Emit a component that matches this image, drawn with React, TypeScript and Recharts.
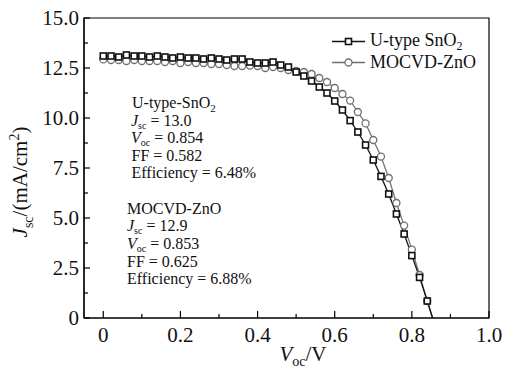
import { LineChart, Line, XAxis, YAxis, ReferenceArea, Legend, Customized } from 'recharts';

const SERIF = 'Liberation Serif, DejaVu Serif, Times New Roman, serif';

// sampled bias voltages (V)
const voltage = [
  0, 0.02, 0.04, 0.06, 0.08, 0.1, 0.12, 0.14, 0.16, 0.18, 0.2, 0.22, 0.24, 0.26, 0.28,
  0.3, 0.32, 0.34, 0.36, 0.38, 0.4, 0.42, 0.44, 0.46, 0.48, 0.5, 0.52, 0.54, 0.56, 0.58,
  0.6, 0.62, 0.64, 0.66, 0.68, 0.7, 0.72, 0.74, 0.76, 0.78, 0.8, 0.82, 0.84,
];

// current density, mA/cm2
const jSnO2 = [
  13.1, 13.1, 13.05, 13.15, 13.1, 13.1, 13.05, 13.1, 13.05, 13.0, 13.05, 13.0, 13.0, 12.95, 13.0,
  12.95, 12.9, 12.95, 12.95, 12.8, 12.75, 12.75, 12.8, 12.65, 12.55, 12.3, 12.1, 11.85, 11.55, 11.25,
  10.85, 10.4, 9.87, 9.3, 8.65, 7.9, 7.08, 6.2, 5.2, 4.2, 3.12, 2.03, 0.85,
];
const jZnO = [
  12.93, 12.9, 12.9, 12.85, 12.9, 12.85, 12.85, 12.85, 12.8, 12.85, 12.75, 12.8, 12.75, 12.75, 12.7,
  12.7, 12.65, 12.6, 12.6, 12.62, 12.6, 12.5, 12.55, 12.5, 12.4, 12.35, 12.3, 12.2, 12.0, 11.8,
  11.5, 11.2, 10.87, 10.3, 9.73, 8.9, 8.07, 7.0, 5.75, 4.62, 3.42, 2.15, 0.85,
];

// the fitted lines run on to Voc
const vocSnO2 = 0.854;
const vocZnO = 0.853;

const xTicks = [0, 0.1, 0.2, 0.3, 0.4, 0.5, 0.6, 0.7, 0.8, 0.9, 1.0];
const yTicks = [0, 1.25, 2.5, 3.75, 5, 6.25, 7.5, 8.75, 10, 11.25, 12.5, 13.75, 15];

const snData = voltage.map((v, i) => ({ v, j: jSnO2[i] })).concat([{ v: vocSnO2, j: 0 }]);
const znData = voltage.map((v, i) => ({ v, j: jZnO[i] })).concat([{ v: vocZnO, j: 0 }]);

const isMajor = (v: number, step: number) => Math.abs(v / step - Math.round(v / step)) < 1e-6;
const fmt = (v: number) => (v === 0 ? '0' : v.toFixed(1));

const XTick = ({ x, y, payload }: any) => {
  const major = isMajor(payload.value, 0.2);
  return (
    <g>
      <line x1={x} x2={x} y1={y} y2={y - (major ? 7 : 4)} stroke="#000" strokeWidth={1.2} />
      {major && (
        <text x={x} y={y + 23.5} textAnchor="middle" fontSize={21} fontFamily={SERIF} fill="#111">
          {fmt(payload.value)}
        </text>
      )}
    </g>
  );
};

const YTick = ({ x, y, payload }: any) => {
  const major = isMajor(payload.value, 2.5);
  return (
    <g>
      <line x1={x} x2={x + (major ? 6 : 4)} y1={y} y2={y} stroke="#000" strokeWidth={1.2} />
      {major && (
        <text x={x - 5} y={y} dy="0.35em" textAnchor="end" fontSize={21} fontFamily={SERIF} fill="#111">
          {fmt(payload.value)}
        </text>
      )}
    </g>
  );
};

const Square = (props: any) => {
  const { cx, cy, index } = props;
  if (cx == null || index === snData.length - 1) return <g key={`s${index}`} />;
  return <rect key={`s${index}`} x={cx - 3} y={cy - 3} width={6} height={6} fill="#fff" stroke="#111" strokeWidth={1.6} />;
};

const Circle = (props: any) => {
  const { cx, cy, index } = props;
  if (cx == null || index === znData.length - 1) return <g key={`c${index}`} />;
  return <circle key={`c${index}`} cx={cx} cy={cy} r={3.5} fill="#fff" stroke="#6e6e6e" strokeWidth={1.3} />;
};

const LegendBox = () => (
  <div style={{ fontFamily: SERIF, fontSize: 18, color: '#111', lineHeight: '21px' }}>
    <div style={{ display: 'flex', alignItems: 'center', height: 21 }}>
      <svg width={36} height={21}>
        <line x1={1} x2={34} y1={10.5} y2={10.5} stroke="#111" strokeWidth={1.6} />
        <rect x={14.5} y={7.5} width={6} height={6} fill="#fff" stroke="#111" strokeWidth={1.6} />
      </svg>
      <span style={{ marginLeft: 3 }}>
        U-type SnO<span style={{ fontSize: 12, position: 'relative', top: 4 }}>2</span>
      </span>
    </div>
    <div style={{ display: 'flex', alignItems: 'center', height: 21 }}>
      <svg width={36} height={21}>
        <line x1={1} x2={34} y1={10.5} y2={10.5} stroke="#6e6e6e" strokeWidth={1.4} />
        <circle cx={17.5} cy={10.5} r={3.5} fill="#fff" stroke="#6e6e6e" strokeWidth={1.3} />
      </svg>
      <span style={{ marginLeft: 3 }}>MOCVD-ZnO</span>
    </div>
  </div>
);

const Sub = ({ children }: any) => (
  <tspan fontSize={10} dy={3}>
    {children}
  </tspan>
);

const Notes = () => {
  const t = { fontFamily: SERIF, fontSize: 16, fill: '#111' } as const;
  return (
    <g>
      <text x={132} y={108} {...t}>
        U-type-SnO<tspan fontSize={11} dy={4}>2</tspan>
      </text>
      <text x={131} y={126} {...t}>
        <tspan fontStyle="italic">J</tspan><Sub>sc</Sub><tspan dy={-3}> = 13.0</tspan>
      </text>
      <text x={131} y={143} {...t}>
        <tspan fontStyle="italic">V</tspan><Sub>oc</Sub><tspan dy={-3}> = 0.854</tspan>
      </text>
      <text x={131.5} y={161} {...t}>FF = 0.582</text>
      <text x={131.5} y={178} {...t}>Efficiency = 6.48%</text>

      <text x={127} y={214} {...t}>MOCVD-ZnO</text>
      <text x={127} y={231} {...t}>
        <tspan fontStyle="italic">J</tspan><Sub>sc</Sub><tspan dy={-3}> = 12.9</tspan>
      </text>
      <text x={127} y={249} {...t}>
        <tspan fontStyle="italic">V</tspan><Sub>oc</Sub><tspan dy={-3}> = 0.853</tspan>
      </text>
      <text x={127} y={267} {...t}>FF = 0.625</text>
      <text x={127} y={284} {...t}>Efficiency = 6.88%</text>

      {/* axis titles */}
      <text x={303} y={361} textAnchor="middle" fontFamily={SERIF} fontSize={21} fill="#111">
        <tspan fontStyle="italic">V</tspan>
        <tspan fontSize={14} dy={5}>oc</tspan>
        <tspan dy={-5}>/V</tspan>
      </text>
      <text
        x={27}
        y={182}
        transform="rotate(-90, 27, 182)"
        textAnchor="middle"
        fontFamily={SERIF}
        fontSize={21}
        fill="#111"
      >
        <tspan fontStyle="italic">J</tspan>
        <tspan fontSize={14} dy={6}>sc</tspan>
        <tspan dy={-6}>/(mA/cm</tspan>
        <tspan fontSize={14} dy={-8}>2</tspan>
        <tspan dy={8}>)</tspan>
      </text>
    </g>
  );
};

export default function App() {
  return (
    <div style={{ position: 'fixed', left: 0, top: 0, width: 509, height: 368, background: '#fff' }}>
      <LineChart width={509} height={368} margin={{ top: 18, right: 20, bottom: 0, left: 0 }}>
        <XAxis
          type="number"
          dataKey="v"
          domain={[-0.05, 1]}
          ticks={xTicks}
          interval={0}
          height={50}
          tickSize={0}
          tickMargin={0}
          tickLine={false}
          axisLine={{ stroke: '#000', strokeWidth: 1.2 }}
          tick={<XTick />}
          allowDataOverflow
        />
        <YAxis
          type="number"
          domain={[0, 15]}
          ticks={yTicks}
          interval={0}
          width={84}
          tickSize={0}
          tickMargin={0}
          tickLine={false}
          axisLine={{ stroke: '#000', strokeWidth: 1.2 }}
          tick={<YTick />}
          allowDataOverflow
        />
        <ReferenceArea x1={-0.05} x2={1} y1={0} y2={15} fill="none" stroke="#000" strokeWidth={1.2} />
        <Line
          data={znData}
          dataKey="j"
          stroke="#777"
          strokeWidth={1.3}
          dot={Circle}
          activeDot={false}
          isAnimationActive={false}
        />
        <Line
          data={snData}
          dataKey="j"
          stroke="#111"
          strokeWidth={1.3}
          dot={Square}
          activeDot={false}
          isAnimationActive={false}
        />
        <Legend
          layout="horizontal"
          verticalAlign="middle"
          align="center"
          content={<LegendBox />}
          wrapperStyle={{ left: 331, top: 31, width: 'auto' }}
        />
        <Customized component={<Notes />} />
      </LineChart>
    </div>
  );
}
